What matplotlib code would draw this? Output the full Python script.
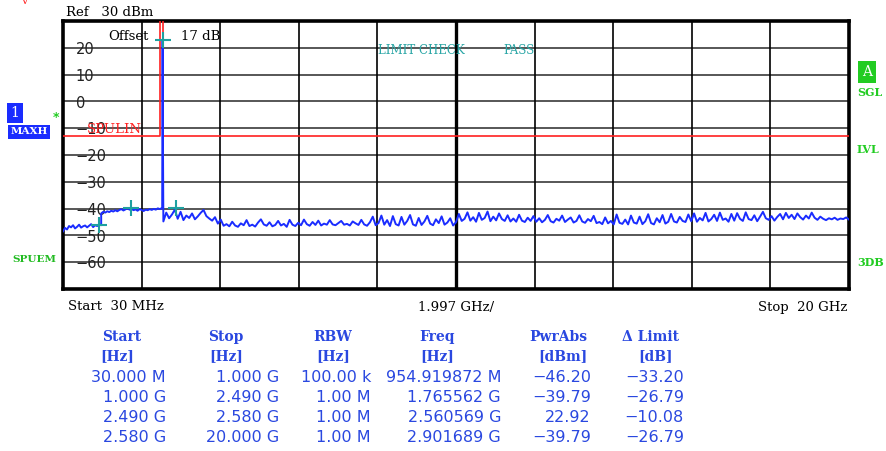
import numpy as np
import matplotlib
matplotlib.use("Agg")
import matplotlib.pyplot as plt

# ---------------- data ----------------
x_start_ghz = 0.03
x_stop_ghz = 20.0
y_min, y_max = -70, 30
y_tick_values = [20, 10, 0, -10, -20, -30, -40, -50, -60]

# trace segment A: 30 MHz .. 1 GHz (RBW 100 kHz)
seg_a_vals = [-48.5, -47.2, -47.8, -46.5, -47.0, -46.2, -47.4, -46.8, -46.0, -47.1,
              -46.6, -46.3, -47.0, -46.4, -45.8, -46.9, -46.2, -46.5, -45.9, -46.2]
# segment B: 1 GHz .. 2.49 GHz
seg_b_vals = [-41.8, -41.2, -41.5, -41.0, -41.3, -40.8, -41.1, -40.6, -41.0, -40.5,
              -40.2, -40.7, -40.3, -39.8, -40.4, -40.1, -40.6, -40.3, -40.8, -40.2,
              -40.5, -40.9, -40.4, -40.6, -40.2, -40.5, -40.1, -40.4, -39.9, -40.2]
# segment C: carrier
seg_c_freq = [2.52, 2.55, 2.5606, 2.566]
seg_c_vals = [-40.0, -39.6, 22.92, -5.0]
# segment D: 2.58 GHz .. 20 GHz
seg_d_vals = [
    -44.8, -41.5, -43.6, -42.2, -40.4, -43.8, -41.2, -44.3, -42.6, -43.5,
    -41.8, -44.0, -42.9, -41.6, -40.5, -42.8, -43.7, -44.5, -43.2, -45.6,
    -44.1, -46.4, -45.8, -46.6, -44.9, -46.3, -46.8, -45.5, -46.2, -44.3,
    -46.5, -46.0, -46.7, -45.2, -44.0, -45.9, -46.4, -45.1, -46.6, -46.1,
    -44.6, -46.3, -45.7, -46.8, -44.2, -46.0, -46.5, -45.3, -46.2, -44.1,
    -45.8, -46.4, -45.0, -46.1, -44.5, -46.3, -45.6, -46.0, -44.3, -45.9,
    -46.2, -45.4, -44.6, -46.0, -45.7, -46.3, -44.8, -45.5, -46.1, -44.2,
    -45.9, -46.4, -45.1, -43.0, -46.2, -45.4, -42.6, -46.0, -44.3, -46.5,
    -42.8, -45.8, -46.3, -43.1, -46.0, -44.6, -42.4, -45.9, -46.4, -43.5,
    -46.1, -44.8, -42.7, -45.6, -46.2, -44.0, -45.4, -42.9, -46.0, -45.2,
    -43.6, -46.3, -45.1, -42.0, -44.6, -43.8, -41.4, -44.5, -43.2, -44.9,
    -41.6, -44.2, -43.5, -41.1, -44.7, -43.0, -44.4, -41.8, -43.9, -44.6,
    -42.5, -44.8, -43.7, -44.9, -42.3, -44.5, -45.0, -43.4, -44.6, -42.8,
    -44.9, -43.6, -45.1, -44.2, -42.4, -44.7, -45.2, -43.8, -44.5, -42.6,
    -45.0, -44.1, -43.3, -45.2, -44.6, -42.5, -44.8, -45.3, -43.9, -44.7,
    -42.7, -45.4, -45.0, -45.8, -43.3, -45.5, -44.6, -45.9, -42.2, -45.3,
    -45.7, -44.1, -45.9, -42.6, -45.2, -45.6, -43.0, -45.8, -44.7, -42.1,
    -45.4, -45.9, -43.6, -45.1, -42.4, -45.6, -44.9, -42.0, -44.8, -45.2,
    -43.1, -44.6, -45.0, -42.2, -44.7, -41.8, -44.9, -43.5, -44.4, -41.6,
    -44.8, -43.9, -42.3, -44.6, -41.5, -44.2, -43.7, -44.9, -42.0, -44.5,
    -41.7, -43.8, -44.6, -41.4, -43.9, -44.3, -42.5, -44.7, -43.0, -41.2,
    -43.6, -44.2, -42.8, -44.5, -43.1, -42.0, -44.0, -41.6, -43.5, -42.3,
    -43.9, -41.8, -43.2, -44.1, -42.6, -43.7, -41.5, -43.4, -44.2, -43.0,
    -43.8, -44.3, -43.6, -44.0, -43.4, -44.2, -43.7, -43.9, -43.3, -44.1,
]

# limit line (SPULIN)
limit_freq = [0.03, 2.49, 2.49, 2.58, 2.58, 20.0]
limit_vals = [-13, -13, 33, 33, -13, -13]

# peak table
tbl_start = ["30.000 M", "1.000 G", "2.490 G", "2.580 G"]
tbl_stop = ["1.000 G", "2.490 G", "2.580 G", "20.000 G"]
tbl_rbw = ["100.00 k", "1.00 M", "1.00 M", "1.00 M"]
tbl_freq = ["954.919872 M", "1.765562 G", "2.560569 G", "2.901689 G"]
tbl_pwr = ["\u221246.20", "\u221239.79", "22.92", "\u221239.79"]
tbl_delta = ["\u221233.20", "\u221226.79", "\u221210.08", "\u221226.79"]
marker_freq_ghz = [0.954919872, 1.765562, 2.560569, 2.901689]
marker_pwr = [-46.20, -39.79, 22.92, -39.79]

# ---------------- build trace ----------------
fa = np.linspace(0.03, 1.0, len(seg_a_vals))
fb = np.linspace(1.0, 2.49, len(seg_b_vals))
fd = np.linspace(2.58, 20.0, len(seg_d_vals))
freq = np.concatenate([fa, fb, seg_c_freq, fd])
vals = np.concatenate([seg_a_vals, seg_b_vals, seg_c_vals, seg_d_vals])

# ---------------- figure ----------------
W, H = 886, 451
fig = plt.figure(figsize=(W / 100, H / 100), dpi=100)
fig.patch.set_facecolor("white")

def fx(px):
    return px / W

def fy(py):
    return 1 - py / H

L, R, T, B = 63, 849, 21, 289
ax = fig.add_axes([fx(L), fy(B), fx(R) - fx(L), fy(T) - fy(B)])
ax.set_xlim(x_start_ghz, x_stop_ghz)
ax.set_ylim(y_min, y_max)

span = x_stop_ghz - x_start_ghz
xg = [x_start_ghz + k * span / 10 for k in range(1, 10)]
yg = list(range(y_min + 10, y_max, 10))
for v in yg:
    ax.axhline(v, color="#3a3a3a", lw=1.2, zorder=1)
for k, v in enumerate(xg):
    ax.axvline(v, color="black", lw=2.4 if k == 4 else 1.2, zorder=1)

ax.set_xticks([])
ax.set_yticks([])
for s in ax.spines.values():
    s.set_linewidth(2.6)
    s.set_color("black")

serif = "DejaVu Serif"

# y labels inside
for v in y_tick_values:
    ax.text(0.016, v - 0.6, f"{v}".replace("-", "\u2212"), transform=ax.get_yaxis_transform(),
            ha="left", va="center", fontsize=10.5, family="DejaVu Sans", color="#222222", zorder=3)

# limit line
ax.plot(limit_freq, limit_vals, color="#ff2020", lw=1.2, zorder=4)
# trace
ax.plot(freq, vals, color="#1a2cff", lw=1.4, zorder=5)
# markers
ax.plot(marker_freq_ghz, marker_pwr, ls="none", marker="+", ms=12, mew=1.5,
        color="#1ea0a0", zorder=6, clip_on=False)

ax.text(0.058, 0.942, "Offset", transform=ax.transAxes, fontsize=9.5,
        family=serif, ha="left", va="center", zorder=7)
ax.text(0.150, 0.942, "17 dB", transform=ax.transAxes, fontsize=9.5,
        family=serif, ha="left", va="center", zorder=7)
ax.text(0.030, 0.594, "SPULIN", transform=ax.transAxes, fontsize=9.5,
        family=serif, color="#ff2020", ha="left", va="center", zorder=7)

# outside texts
def ftext(px, py, s, **kw):
    fig.text(fx(px), fy(py), s, **kw)

ftext(378, 51, "LIMIT CHECK", fontsize=8.5, family=serif, color="#2aa6a6", ha="left", va="center")
ftext(535, 51, "PASS", fontsize=8.5, family=serif, color="#2aa6a6", ha="right", va="center")

ftext(66, 12, "Ref   30 dBm", fontsize=9.5, family=serif, ha="left", va="center")
ftext(68, 307, "Start  30 MHz", fontsize=9.5, family=serif, ha="left", va="center")
ftext(456, 307, "1.997 GHz/", fontsize=9.5, family=serif, ha="center", va="center")
ftext(847, 307, "Stop  20 GHz", fontsize=9.5, family=serif, ha="right", va="center")
ftext(24, 1, "v", fontsize=8, family=serif, ha="center", va="center", color="#ff2020")

# left side annotations
fig.text(fx(15), fy(113), "1", fontsize=10, family=serif, color="white", ha="center", va="center",
         bbox=dict(boxstyle="square,pad=0.25", fc="#1a2cff", ec="none"))
fig.text(fx(29), fy(132), "MAXH", fontsize=7.5, family=serif, weight="bold", color="white",
         ha="center", va="center",
         bbox=dict(boxstyle="square,pad=0.2", fc="#1a2cff", ec="none"))
ftext(56, 117, "*", fontsize=9, family="DejaVu Sans", weight="bold", color="#22cc22", ha="center", va="center")
ftext(34, 259, "SPUEM", fontsize=7.5, family=serif, weight="bold", color="#22bb22", ha="center", va="center")

# right side annotations
fig.text(fx(867), fy(72), "A", fontsize=10, family=serif, color="white", ha="center", va="center",
         bbox=dict(boxstyle="square,pad=0.3", fc="#22cc22", ec="none"))
ftext(857, 93, "SGL", fontsize=8, family=serif, weight="bold", color="#22cc22", ha="left", va="center")
ftext(857, 150, "LVL", fontsize=8, family=serif, weight="bold", color="#22cc22", ha="left", va="center")
ftext(857, 262, "3DB", fontsize=8, family=serif, weight="bold", color="#22cc22", ha="left", va="center")

# table
tcol = "#2a48e0"
headers = ["Start", "Stop", "RBW", "Freq", "PwrAbs", "\u0394 Limit"]
units = ["[Hz]", "[Hz]", "[Hz]", "[Hz]", "[dBm]", "[dB]"]
head_cx = [122, 226, 333, 437, 558, 650]
unit_cx = [117, 226, 333, 437, 563, 655]
for h, u, cx, ux in zip(headers, units, head_cx, unit_cx):
    ftext(cx, 337, h, fontsize=10, family=serif, weight="bold", color=tcol, ha="center", va="center")
    ftext(ux, 356, u, fontsize=10, family=serif, weight="bold", color=tcol, ha="center", va="center")

right_edges = [166, 279, 371, 501, 591, 684]
row_y = [377, 397, 417, 437]
cols = [tbl_start, tbl_stop, tbl_rbw, tbl_freq, tbl_pwr, tbl_delta]
for col, rx in zip(cols, right_edges):
    for s, ry in zip(col, row_y):
        ftext(rx, ry, s, fontsize=11.5, family="DejaVu Sans", color=tcol, ha="right", va="center")

fig.savefig("out.png", dpi=100)
